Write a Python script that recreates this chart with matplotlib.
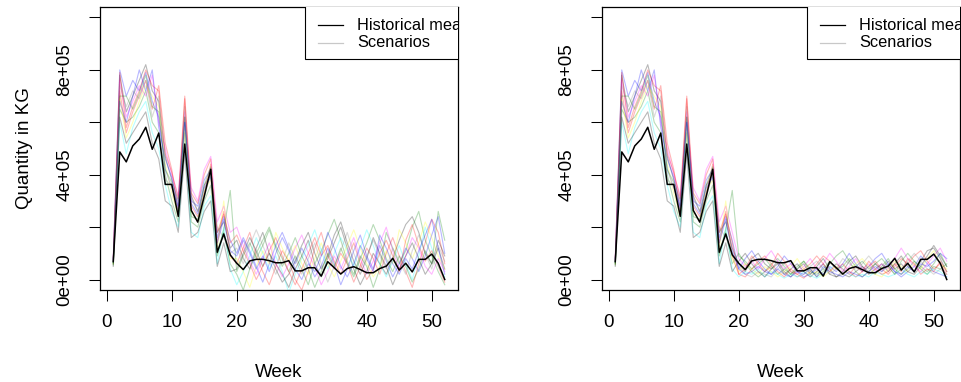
import numpy as np
import matplotlib
matplotlib.use('Agg')
import matplotlib.pyplot as plt
from matplotlib.patches import Rectangle

plt.rcParams['font.family'] = ['Liberation Sans', 'DejaVu Sans']

weeks = np.arange(1, 53)

# historical mean, thousands of kg
hist_mean = [68, 487, 449, 510, 536, 581, 497, 559, 363, 363, 241, 517, 264, 219, 318, 421,
             104, 174, 94, 62, 38, 71, 77, 77, 72, 64, 64, 72, 33, 33, 45, 45, 13, 68, 45, 21,
             42, 49, 38, 26, 26, 42, 51, 81, 36, 62, 29, 77, 77, 97, 62, 0]

# scenarios, weeks 1-19 (same in both panels), thousands of kg
early = [
    [60, 780, 640, 700, 760, 820, 720, 680, 470, 380, 300, 620, 320, 260, 360, 400, 180, 220, 120],
    [70, 720, 560, 640, 700, 760, 650, 740, 520, 420, 260, 690, 280, 240, 330, 440, 140, 260, 90],
    [55, 650, 600, 620, 660, 720, 600, 560, 400, 300, 220, 560, 220, 200, 300, 360, 90, 180, 60],
    [80, 800, 700, 760, 720, 790, 680, 620, 420, 350, 280, 600, 300, 280, 380, 420, 160, 240, 150],
    [65, 600, 480, 580, 640, 680, 560, 500, 360, 260, 200, 520, 180, 160, 280, 320, 60, 200, 40],
    [75, 760, 620, 680, 740, 700, 780, 600, 500, 400, 320, 640, 350, 300, 420, 470, 220, 280, 180],
    [60, 690, 540, 600, 680, 740, 700, 660, 440, 330, 240, 580, 260, 220, 340, 380, 120, 300, 80],
    [70, 740, 660, 720, 690, 760, 620, 700, 380, 360, 290, 660, 310, 260, 310, 410, 200, 160, 100],
    [50, 620, 520, 560, 600, 640, 520, 460, 300, 280, 180, 480, 160, 180, 260, 300, 50, 140, 30],
    [85, 790, 580, 660, 720, 800, 740, 720, 480, 410, 310, 700, 330, 290, 400, 460, 180, 250, 140],
    [60, 700, 700, 650, 710, 780, 660, 640, 420, 370, 250, 620, 240, 230, 360, 430, 100, 190, 340],
    [70, 680, 600, 700, 800, 720, 800, 580, 460, 390, 270, 600, 290, 250, 350, 390, 140, 230, 110],
]

# scenarios, weeks 20-52, left panel (wide spread)
late_left = [
    [150, 80, 40, 120, 180, 100, 60, 20, -30, 40, 90, 150, 60, 10, 80, 140, 200, 120, 40, -20, 30, 100, 60, 20, 80, 150, 210, 240, 180, 100, 60, 120, 40],
    [60, 120, 180, 90, 30, -20, 50, 110, 70, 0, -40, 30, 120, 180, 90, 40, 100, 60, -10, 50, 120, 80, 20, 100, 160, 90, 30, -30, 60, 140, 230, 180, 60],
    [20, -40, 40, 100, 150, 200, 130, 80, 30, 90, 40, -20, 60, 110, 170, 230, 150, 70, 20, 90, 50, -30, 40, 180, 120, 60, 110, 200, 260, 150, 90, 30, -20],
    [100, 160, 110, 50, -10, 60, 130, 180, 120, 60, 120, 70, 10, 50, 120, 60, -20, 40, 110, 170, 90, 40, 130, 70, 10, 60, 120, 80, 30, 90, 170, 240, 100],
    [-20, 30, 90, 160, 100, 40, 90, 30, -50, 20, 80, 130, 190, 110, 40, 100, 160, 110, 50, 120, 190, 130, 60, 10, 70, 130, 60, 0, 90, 200, 120, 50, 10],
    [200, 130, 70, 20, 80, 140, 60, 10, 60, 120, 170, 100, 50, -20, 30, 90, 40, 100, 160, 80, 20, 70, 140, 200, 110, 40, 90, 160, 120, 50, 20, 80, 30],
    [80, 30, -30, 50, 110, 60, 180, 120, 70, 130, 60, 20, 80, 140, 60, 10, 70, 130, 190, 120, 60, 10, 50, 110, 60, 190, 140, 80, 140, 220, 160, 90, 40],
    [120, 60, 130, 190, 130, 70, 20, 70, 140, 80, 20, 80, 140, 60, -10, 50, 110, 180, 100, 40, 90, 150, 90, 40, 120, 70, 20, 110, 170, 100, 40, 130, 70],
    [40, 100, 160, 110, 50, 100, 40, -10, 20, 70, 130, 180, 100, 40, 90, 170, 220, 140, 70, 20, 80, 160, 100, 50, -20, 40, 90, 140, 80, 20, 60, 150, 90],
    [170, 110, 60, 0, 50, 110, 160, 90, 30, -20, 40, 100, 160, 90, 130, 70, 20, 80, 140, 60, 0, 40, 100, 150, 90, 30, 150, 210, 130, 70, 110, 50, -10],
    [30, 90, 140, 80, 130, 190, 120, 50, 100, 160, 90, 40, -30, 30, 100, 50, 120, 60, 10, 80, 140, 210, 150, 80, 30, 90, 50, -10, 40, 110, 60, 260, 150],
    [90, 150, 100, 40, 90, 30, 100, 160, 110, 40, 0, 60, 30, 90, 180, 120, 50, 10, 60, 130, 80, 30, 170, 120, 60, 20, 80, 40, 110, 170, 230, 120, 20],
]

# scenarios, weeks 20-52, right panel (narrow spread)
late_right = [
    [60, 30, 80, 100, 60, 40, 70, 30, 10, 40, 60, 20, 50, 80, 40, 10, 30, 70, 90, 50, 20, 40, 60, 30, 60, 90, 50, 30, 70, 110, 120, 80, 30],
    [20, 10, 40, 70, 90, 60, 30, 10, 40, 20, 5, 30, 60, 90, 70, 40, 60, 30, 10, 30, 50, 70, 40, 20, 50, 80, 60, 90, 110, 70, 40, 60, 20],
    [100, 60, 30, 10, 30, 60, 80, 50, 20, 40, 70, 40, 10, 30, 60, 90, 110, 70, 30, 10, 30, 20, 50, 80, 40, 20, 40, 70, 50, 30, 60, 100, 50],
    [40, 80, 110, 70, 40, 20, 50, 90, 60, 30, 10, 20, 40, 20, 50, 30, 60, 100, 60, 30, 50, 80, 100, 60, 30, 10, 30, 50, 90, 60, 30, 20, 10],
    [10, 30, 20, 40, 10, 30, 20, 5, 20, 10, 30, 15, 5, 20, 40, 60, 40, 20, 10, 20, 10, 30, 20, 10, 20, 40, 20, 10, 30, 20, 40, 30, 10],
    [80, 50, 70, 40, 80, 110, 70, 40, 60, 30, 50, 80, 40, 60, 100, 70, 30, 50, 80, 40, 60, 30, 60, 40, 80, 120, 80, 50, 30, 60, 90, 120, 70],
    [30, 60, 40, 20, 50, 30, 10, 30, 50, 80, 40, 20, 30, 10, 30, 50, 20, 40, 60, 80, 50, 20, 10, 40, 70, 50, 30, 60, 40, 80, 110, 60, 40],
    [50, 20, 10, 30, 20, 10, 40, 60, 30, 10, 20, 50, 70, 40, 20, 40, 80, 60, 40, 60, 90, 60, 30, 50, 20, 40, 70, 100, 70, 40, 20, 40, 20],
    [70, 100, 60, 30, 10, 40, 60, 20, 40, 60, 30, 10, 30, 60, 20, 10, 20, 10, 30, 50, 30, 60, 40, 70, 40, 60, 30, 20, 50, 90, 130, 90, 50],
    [20, 40, 90, 60, 30, 50, 100, 70, 30, 20, 40, 60, 90, 60, 30, 60, 40, 20, 50, 30, 70, 40, 20, 30, 60, 30, 80, 60, 20, 40, 30, 70, 30],
    [90, 70, 40, 60, 80, 50, 20, 40, 20, 50, 70, 30, 20, 40, 70, 40, 50, 80, 50, 70, 40, 60, 80, 50, 20, 70, 100, 70, 40, 20, 50, 40, 60],
    [40, 20, 30, 50, 30, 20, 40, 20, 10, 30, 20, 40, 10, 50, 30, 20, 10, 30, 20, 10, 30, 50, 30, 60, 30, 20, 50, 30, 60, 50, 70, 100, 80],
]

# R's old default palette
palette = ['black', 'red', 'green', 'blue', 'cyan', 'magenta', 'yellow', 'gray']

xticks = [0, 10, 20, 30, 40, 50]
yticks = [0, 2e5, 4e5, 6e5, 8e5, 1e6]
ytick_labels = ['0e+00', '', '4e+05', '', '8e+05', '']

W, H = 961, 382
fig = plt.figure(figsize=(W / 100, H / 100), dpi=100)
ax_w = 358 / W
ax_b = 1 - 290 / H
ax_h = 283 / H
ax1 = fig.add_axes([100 / W, ax_b, ax_w, ax_h])
ax2 = fig.add_axes([602 / W, ax_b, ax_w, ax_h])


def draw_panel(ax, late, ylabel):
    for i in range(len(early)):
        vals = np.array(early[i] + late[i]) * 1000
        ax.plot(weeks, vals, color=palette[i % len(palette)], alpha=0.28, lw=0.8)
    ax.plot(weeks, np.array(hist_mean) * 1000, color='black', lw=1.1)

    ax.set_xlim(-1.04, 54.04)
    ax.set_ylim(-40000, 1040000)
    ax.set_xticks(xticks)
    ax.set_xticklabels([str(t) for t in xticks])
    ax.set_yticks(yticks)
    ax.set_yticklabels(ytick_labels, rotation=90, va='center')
    ax.tick_params(length=8, width=0.75, labelsize=13.5, pad=9)
    ax.tick_params(axis='y', pad=11)
    for s in ax.spines.values():
        s.set_linewidth(0.9)
    ax.set_xlabel('Week', fontsize=13.5, labelpad=24)
    if ylabel:
        ax.set_ylabel(ylabel, fontsize=13.5, labelpad=17)

    # legend drawn like R's legend(): text runs past the box
    ax.add_patch(Rectangle((0.573, 0.816), 0.5, 0.2, transform=ax.transAxes,
                           facecolor='white', edgecolor='black', lw=0.8, zorder=5))
    ax.plot([0.609, 0.679], [0.936, 0.936], transform=ax.transAxes, color='black', lw=0.9, zorder=6)
    ax.plot([0.609, 0.679], [0.873, 0.873], transform=ax.transAxes, color='#c8c8c8', lw=0.9, zorder=6)
    ax.text(0.718, 0.936, 'Historical mean', transform=ax.transAxes, fontsize=11.8,
            va='center', ha='left', zorder=6, clip_on=True)
    ax.text(0.718, 0.873, 'Scenarios', transform=ax.transAxes, fontsize=11.8,
            va='center', ha='left', zorder=6, clip_on=True)


draw_panel(ax1, late_left, 'Quantity in KG')
draw_panel(ax2, late_right, None)

fig.savefig('out.png', dpi=100)
